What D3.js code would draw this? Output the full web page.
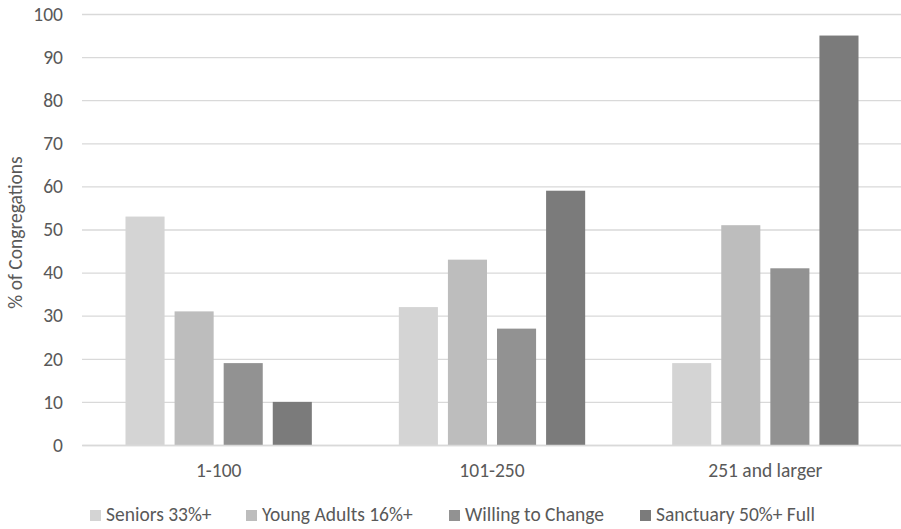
<!DOCTYPE html>
<html>
<head>
<meta charset="utf-8">
<script src="https://cdn.jsdelivr.net/npm/d3@7/dist/d3.min.js"></script>
<style>
  html, body { margin: 0; padding: 0; background: #fff; }
  svg text { font-family: Carlito, Lato, "Open Sans", sans-serif; fill: #595959; }
</style>
</head>
<body>
<svg id="chart" width="901" height="529"></svg>
<script>
// Congregation size groups
const categories = ["1-100", "101-250", "251 and larger"];
const seriesNames = ["Seniors 33%+", "Young Adults 16%+", "Willing to Change", "Sanctuary 50%+ Full"];
const seniors = [53, 32, 19];
const youngAdults = [31, 43, 51];
const willingToChange = [19, 27, 41];
const sanctuaryFull = [10, 59, 95];
const yTicks = [0, 10, 20, 30, 40, 50, 60, 70, 80, 90, 100];
const colors = ["#d4d4d4", "#bdbdbd", "#929292", "#7b7b7b"];

const seriesValues = [seniors, youngAdults, willingToChange, sanctuaryFull];
const rows = categories.map((c, i) => ({
  category: c,
  values: seriesNames.map((s, j) => ({ series: s, idx: j, value: seriesValues[j][i] }))
}));

const svg = d3.select("#chart");
const plotLeft = 82, plotRight = 902, plotTop = 14, plotBottom = 445;
const fontSize = 19.5;

const x0 = d3.scaleBand().domain(categories).range([plotLeft, plotRight]).paddingInner(0).paddingOuter(0);
const groupPad = 43.5;
const x1 = d3.scaleBand().domain(seriesNames).range([groupPad, x0.bandwidth() - groupPad]).paddingInner(0.204).paddingOuter(0);
const y = d3.scaleLinear().domain([0, 100]).range([plotBottom, plotTop]);

// Gridlines and value labels
const yAxis = d3.axisLeft(y).tickValues(yTicks).tickSize(-(plotRight - plotLeft)).tickPadding(19);
const gy = svg.append("g").attr("transform", `translate(${plotLeft},0)`).call(yAxis);
gy.select(".domain").remove();
gy.selectAll(".tick line").attr("stroke", "#d9d9d9").attr("stroke-width", 1.3);
gy.selectAll(".tick text").attr("font-size", fontSize).style("fill", "#595959");

// Bars
const groups = svg.append("g").selectAll("g").data(rows).join("g")
  .attr("transform", d => `translate(${x0(d.category)},0)`);
groups.selectAll("rect").data(d => d.values).join("rect")
  .attr("x", d => x1(d.series))
  .attr("width", x1.bandwidth())
  .attr("y", d => y(d.value))
  .attr("height", d => y(0) - y(d.value))
  .attr("fill", d => colors[d.idx]);

// Category axis
const xAxis = d3.axisBottom(x0).tickSize(0).tickPadding(18);
const gx = svg.append("g").attr("transform", `translate(0,${plotBottom})`).call(xAxis);
gx.select(".domain").attr("stroke", "#d9d9d9").attr("stroke-width", 1.3);
gx.selectAll(".tick text").attr("font-size", fontSize).style("fill", "#595959");

// Y-axis title
svg.append("text")
  .attr("transform", `translate(22,${(plotTop + plotBottom) / 2 + 3}) rotate(-90)`)
  .attr("text-anchor", "middle")
  .attr("font-size", fontSize)
  .text("% of Congregations");

// Legend
const legendX = [90, 246, 449, 640];
const legend = svg.append("g").selectAll("g").data(seriesNames).join("g")
  .attr("transform", (d, i) => `translate(${legendX[i]},521)`);
legend.append("rect").attr("x", 0).attr("y", -11).attr("width", 11).attr("height", 11)
  .attr("fill", (d, i) => colors[i]);
legend.append("text").attr("x", 16).attr("y", 0)
  .attr("font-size", fontSize).text(d => d);
</script>
</body>
</html>
